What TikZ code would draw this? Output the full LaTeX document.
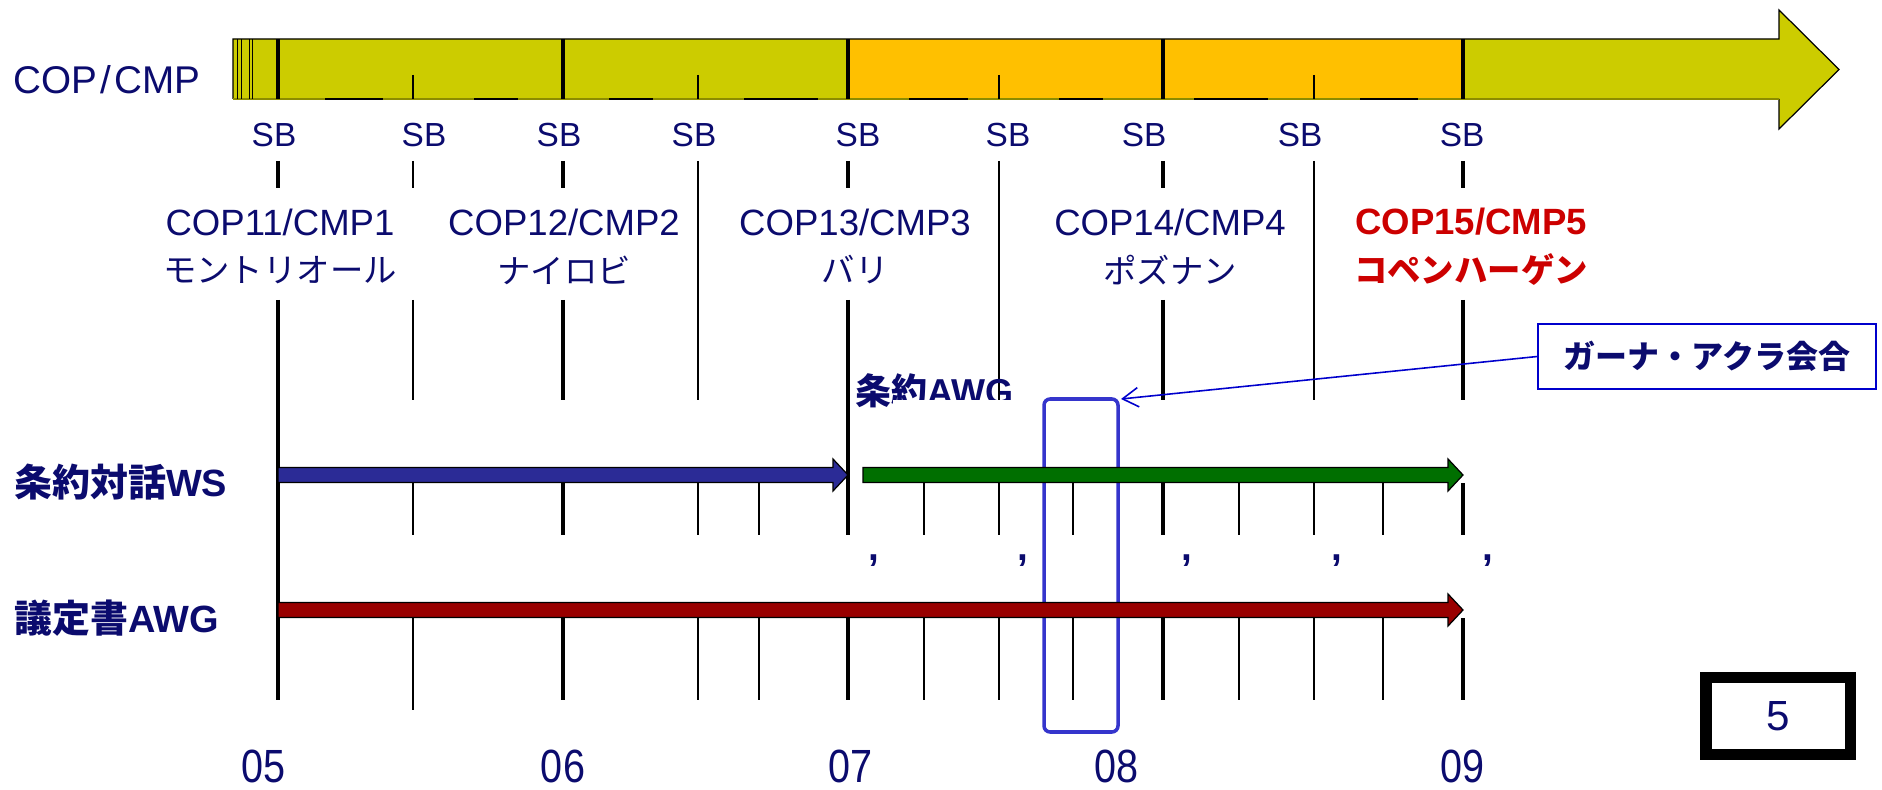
\documentclass[tikz,border=0pt]{standalone}
\usepackage{fontspec}
\setmainfont{Liberation Sans}
\newfontfamily\jp{Noto Sans CJK JP}
\usetikzlibrary{arrows.meta, positioning}
\definecolor{cnavy}{HTML}{0B0B6E}
\definecolor{copred}{HTML}{CC0000}
\definecolor{barolive}{HTML}{CCCC00}
\definecolor{barorange}{HTML}{FFC000}
\definecolor{edgeolive}{HTML}{8C8C00}
\definecolor{wsblue}{HTML}{2B2B96}
\definecolor{awggreen}{HTML}{006F00}
\definecolor{kpred}{HTML}{990000}
\definecolor{hiblue}{HTML}{3535CC}
\definecolor{callblue}{HTML}{0000CC}

% fat timeline arrow: colour, start x, tip x, centre y
\newcommand{\fatarrow}[4]{%
  \filldraw[fill=#1, draw=black, line width=0.7pt, line join=miter]
    (#2,#4-7.5) -- (#3-15,#4-7.5) -- (#3-15,#4-16) -- (#3,#4)
    -- (#3-15,#4+16) -- (#3-15,#4+7.5) -- (#2,#4+7.5) -- cycle;}

\begin{document}
\begin{tikzpicture}[
  x=0.02cm, y=-0.02cm,
  every node/.style={inner sep=0pt, text=cnavy},
  sb/.style={font=\fontsize{19}{19}\selectfont},
  cop/.style={font=\fontsize{20.8}{20.8}\selectfont},
  city/.style={font=\fontsize{19}{19}\selectfont\jp},
  rowlabel/.style={font=\fontsize{21.6}{21.6}\selectfont\bfseries, anchor=west},
  year/.style={font=\fontsize{26.5}{26.5}\selectfont},
  yearline/.style={line width=2.3pt},
  monthline/.style={line width=0.8pt},
  hilite/.style={draw=hiblue, line width=2pt, rounded corners=3.5pt},
  callout/.style={draw=callblue, line width=0.9pt, fill=white, minimum width=6.76cm, minimum height=1.3cm, font=\fontsize{18.2}{18.2}\selectfont\jp\bfseries},
  pagebox/.style={draw=black, line width=6.5pt, minimum width=2.89cm, minimum height=1.53cm, font=\fontsize{24}{24}\selectfont},
]
\useasboundingbox (0,0) rectangle (1882,790);

% COP/CMP time bar
\fill[barolive] (233,39) -- (1779,39) -- (1779,10) -- (1839,69.5) -- (1779,129) -- (1779,99) -- (233,99) -- cycle;
\fill[barorange] (848,39) rectangle (1463,99);
\draw[line width=0.7pt] (233,99) -- (233,39) -- (1779,39) -- (1779,10) -- (1839,69.5) -- (1779,129) -- (1779,99);
\draw[edgeolive, line width=0.7pt] (1779,99) -- (233,99);
\foreach \x in {237,241,249,252} \draw[line width=0.5pt] (\x,39) -- (\x,99);
\foreach \a/\b in {325/383, 474/518, 609/653, 744/818, 909/968, 1059/1103, 1194/1268, 1360/1418}
  \draw[line width=1.2pt] (\a,99) -- (\b,99);
\foreach \x in {278,563,848,1163,1463} \draw[yearline] (\x,39) -- (\x,99);
\foreach \x in {413,698,999,1314} \draw[monthline] (\x,75) -- (\x,99);

\node[font=\fontsize{22}{22}\selectfont, anchor=west] (copcmp) at (13,80) {COP\kern2pt/\kern2pt CMP};

% sessions
\foreach \x [count=\i] in {274,424,559,694,858,1008,1144,1300,1462}
  \node[sb] (sb\i) at (\x,135) {SB};

% grid lines
\foreach \x in {278,563,848,1163,1463} \draw[yearline] (\x,161) -- (\x,188);
\draw[monthline] (413,161) -- (413,188);
\foreach \x in {698,999,1314} \draw[monthline] (\x,161) -- (\x,400);
\draw[yearline] (278,300) -- (278,700);
\draw[yearline] (848,300) -- (848,535) (848,618) -- (848,700);
\foreach \x in {563,1163,1463} \draw[yearline] (\x,300) -- (\x,400) (\x,483) -- (\x,535) (\x,618) -- (\x,700);
\draw[monthline] (413,300) -- (413,400) (413,483) -- (413,535) (413,618) -- (413,710);
\foreach \x in {698,759,924,999,1073,1239,1314,1383} \draw[monthline] (\x,483) -- (\x,535) (\x,618) -- (\x,700);

% conferences
\foreach \x/\n/\m/\city in {280/11/1/モントリオール, 564/12/2/ナイロビ, 855/13/3/バリ, 1170/14/4/ポズナン} {
  \node[cop] (cop\n) at (\x,222) {COP\n/CMP\m};
  \node[city] (city\n) at (\x,270) {\city};
}
\node[font=\fontsize{20.8}{20.8}\selectfont\bfseries, text=copred] (cop15) at (1471,222) {COP15/CMP5};
\node[font=\fontsize{19}{19}\selectfont\jp\bfseries, text=copred] (city15) at (1471,270) {コペンハーゲン};

\node[font=\fontsize{20.5}{20.5}\selectfont\bfseries, anchor=west] (treatyawg) at (855,391) {{\jp 条約}AWG};
\fill[white] (893,400) rectangle (1040,420);

% Accra session
\draw[hilite] (1044,399) rectangle (1118,732);
\coordinate (hlcorner) at (1121,399);

% negotiation tracks
\fatarrow{wsblue}{278}{848}{475}
\fatarrow{awggreen}{863}{1463}{475}
\fatarrow{kpred}{278}{1463}{610}

\node[rowlabel] (ws) at (14,482) {{\jp 条約対話}WS};
\node[rowlabel] (kpawg) at (14,618) {{\jp 議定書}AWG};

\foreach \x [count=\i] in {874,1023,1187,1337,1488}
  \node[font=\fontsize{22}{22}\selectfont\bfseries] (comma\i) at (\x,561) {,};

\node[callout] (ghana) at (1707,356.5) {ガーナ・アクラ会合};
\draw[callblue, line width=0.9pt, -{Straight Barb[length=9pt, width=11pt]}] (ghana.west) -- (hlcorner);

% years
\foreach \x/\yr in {264/05, 563/06, 850/07, 1116/08, 1462/09}
  \node[year] (year\yr) at (\x,766) {\scalebox{0.85}[1]{\yr}};

\node[pagebox] (pageno) at (1778,716) {5};
\end{tikzpicture}
\end{document}
